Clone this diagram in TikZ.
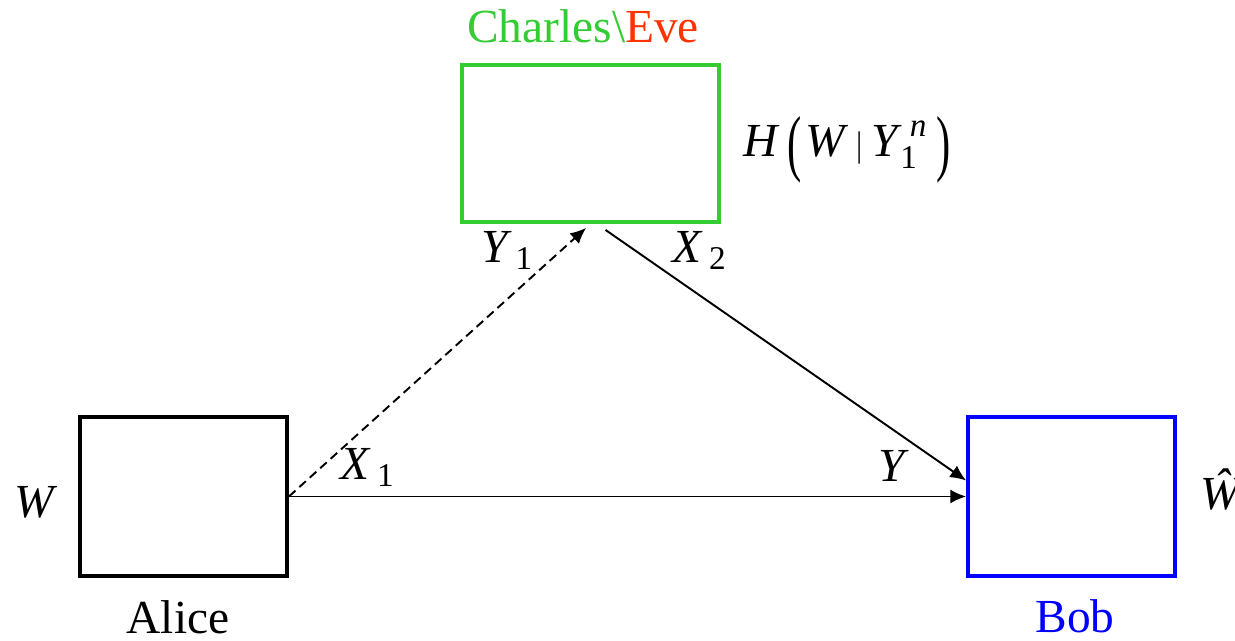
\documentclass[tikz,border=0pt]{standalone}
\usepackage{fontspec}
\setmainfont{Liberation Serif}[ItalicFont={Liberation Serif Italic}]
\usetikzlibrary{arrows.meta}
\definecolor{chgreen}{RGB}{51,204,51}
\definecolor{evered}{RGB}{255,51,0}
\definecolor{bobblue}{RGB}{0,0,255}
\newcommand{\bigtxt}{\fontsize{27}{30}\selectfont}
\tikzset{
    party/.style={draw, line width=2.2pt, minimum width=4.14cm, minimum height=3.18cm},
    lbl/.style={font=\bigtxt, anchor=base, inner sep=0pt},
    mlbl/.style={font=\bigtxt\itshape, anchor=base west, inner sep=0pt},
    flow/.style={-{Latex[length=9pt,width=8pt]}, line width=1.1pt},
}
\begin{document}
\begin{tikzpicture}[x=0.02cm, y=-0.02cm]
    \useasboundingbox (0,0) rectangle (1235,641);
    % parties
    \node[party] (alice) at (183.5,496.5) {};
    \node[party, draw=chgreen, minimum width=5.14cm, minimum height=3.14cm] (charles) at (590.5,143.5) {};
    \node[party, draw=bobblue] (bob) at (1071.5,496.5) {};
    \node[lbl] (alicename) at (178,634) {Alice};
    \node[lbl, text=bobblue] (bobname) at (1075,633) {Bob};
    \node[lbl] (charlesname) at (583,43) {\textcolor{chgreen}{Charles\textbackslash}\textcolor{evered}{Eve}};
    % channels
    \draw[flow] (alice.east) -- (bob.west);
    \draw[flow, dash pattern=on 5pt off 3pt, shorten >=3.4pt] (alice.east) -- (charles.south);
    \draw[flow] ([xshift=0.3cm, yshift=-0.12cm]charles.south) -- ([yshift=0.32cm]bob.west);
    % symbols
    \node[mlbl] (w) at (14,518) {W};
    \node[mlbl] (what) at (1200,510) {\^W};
    \node[mlbl] (x1) at (340,480) {X\,\textsubscript{\upshape 1}};
    \node[mlbl] (y) at (878,482) {Y};
    \node[mlbl] (y1) at (481,263) {Y\,\textsubscript{\upshape 1}};
    \node[mlbl] (x2) at (672,263) {X\,\textsubscript{\upshape 2}};
    \node[mlbl] (entropy) at (743,157) {H\hspace{0.2em}\raisebox{-0.22em}{\upshape\scalebox{0.9}[1.55]{(}}\hspace{0.08em}W\hspace{0.25em}{\upshape\scalebox{0.6}[0.75]{|}}\hspace{0.2em}Y\hspace{0.05em}\rlap{\hspace{0.2em}\raisebox{0.1em}{\textsuperscript{n}}}\raisebox{-0.1em}{\textsubscript{\upshape 1}}\hspace{0.4em}\raisebox{-0.22em}{\upshape\scalebox{0.9}[1.55]{)}}};
\end{tikzpicture}
\end{document}
